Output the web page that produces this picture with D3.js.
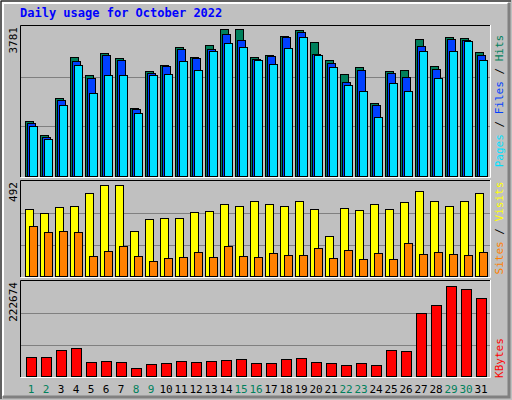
<!DOCTYPE html>
<html>
<head>
<meta charset="utf-8">
<script src="https://cdn.jsdelivr.net/npm/d3@7"></script>
<style>
  body { margin: 0; background: #fff; }
  text { font-family: 'DejaVu Sans Mono', monospace; }
</style>
</head>
<body>
<script>
var days = d3.range(1, 32)
var weekends = [1, 2, 8, 9, 15, 16, 22, 23, 29, 30]
var hits = [1396, 1041, 1980, 3020, 2563, 3121, 2995, 1726, 2664, 2817, 3274, 3020, 3324, 3731, 3731, 3020, 3070, 3553, 3705, 3401, 2944, 2588, 2766, 1853, 2664, 2690, 3477, 2791, 3527, 3502, 3147]
var files = [1346, 990, 1930, 2918, 2487, 3070, 2944, 1700, 2614, 2791, 3223, 2995, 3223, 3604, 3451, 2970, 3045, 3527, 3654, 3096, 2868, 2385, 2690, 1802, 2614, 2512, 3299, 2715, 3477, 3451, 3070]
var pages = [1269, 940, 1802, 2817, 2106, 2563, 2563, 1599, 2563, 2588, 2918, 2690, 3172, 3375, 3274, 2944, 2842, 3248, 3527, 3070, 2766, 2309, 2157, 1497, 2360, 2157, 3172, 2487, 3172, 3426, 2944]
var visits = [349, 328, 359, 364, 432, 478, 478, 235, 297, 302, 302, 333, 338, 375, 369, 390, 375, 369, 390, 349, 209, 354, 343, 375, 349, 385, 447, 395, 369, 395, 432]
var sites = [261, 230, 235, 230, 105, 131, 157, 105, 79, 95, 100, 126, 100, 157, 105, 100, 121, 110, 110, 147, 95, 136, 90, 121, 90, 173, 116, 126, 116, 110, 126]
var kbytes = [45316, 45316, 61723, 66411, 33596, 35940, 33596, 19533, 28908, 31252, 35940, 33596, 35940, 38284, 40628, 31252, 31252, 40628, 42972, 33596, 31252, 26564, 31252, 26564, 61723, 59379, 148450, 167200, 214080, 207045, 183606]
var maxHits = 3781, maxVisits = 492, maxKB = 222674

var W = 512, H = 400
var svg = d3.select('body').append('svg').attr('width', W).attr('height', H)

// frame
svg.append('rect').attr('width', W).attr('height', H).attr('fill', '#c0c0c0')
svg.append('path').attr('d', 'M1,399 V1 H511').attr('stroke', '#000').attr('fill', 'none')
svg.append('path').attr('d', 'M3,396 V3 H508').attr('stroke', '#fff').attr('stroke-width', 2).attr('fill', 'none')
svg.append('path').attr('d', 'M3,397 H509 V3').attr('stroke', '#808080').attr('stroke-width', 3).attr('fill', 'none')

svg.append('text').attr('x', 20).attr('y', 17).attr('fill', '#0000ff')
  .attr('font-size', 12).attr('font-weight', 'bold').text('Daily usage for October 2022')

var x = d3.scaleBand().domain(days).range([22, 487]).paddingInner(0)

function panel (top, bottom, max) {
  svg.append('rect').attr('x', 20).attr('y', top).attr('width', 471).attr('height', bottom - top)
    .attr('fill', '#c0c0c0')
  var y = d3.scaleLinear().domain([0, max]).range([bottom - 1, top + 2])
  ;[1 / 3, 2 / 3].forEach(function (f) {
    svg.append('line').attr('x1', 21).attr('x2', 490)
      .attr('y1', Math.round(y(max * f)) + 0.5).attr('y2', Math.round(y(max * f)) + 0.5)
      .attr('stroke', '#808080')
  })
  svg.append('path').attr('d', 'M20.5,' + bottom + ' V' + (top + 0.5) + ' H490.5')
    .attr('stroke', '#000').attr('fill', 'none')
  svg.append('path').attr('d', 'M20.5,' + (bottom + 0.5) + ' H490.5 V' + top)
    .attr('stroke', '#fff').attr('fill', 'none')
  svg.append('text').attr('transform', 'translate(17,' + (top + 2) + ') rotate(-90)')
    .attr('text-anchor', 'end').attr('font-size', 11).attr('fill', '#000').text(max)
  return y
}

function bars (data, y, off, w, color) {
  svg.append('g').selectAll('rect').data(data).join('rect')
    .attr('x', function (d, i) { return Math.round(x(days[i])) + off + 0.5 })
    .attr('y', function (d) { return Math.round(y(d)) + 0.5 })
    .attr('width', w)
    .attr('height', function (d) { return Math.round(y(0)) - Math.round(y(d)) })
    .attr('fill', color).attr('stroke', '#000')
}

function sideLabel (parts, cy) {
  var t = svg.append('text').attr('transform', 'translate(503,' + cy + ') rotate(-90)')
    .attr('text-anchor', 'middle').attr('font-size', 11)
  parts.forEach(function (p, i) {
    if (i) t.append('tspan').attr('fill', '#000').text(' / ')
    t.append('tspan').attr('fill', p[1]).text(p[0])
  })
}

var y1 = panel(25, 177, maxHits)
bars(hits, y1, 3, 8, '#00805c')
bars(files, y1, 5, 8, '#0040ff')
bars(pages, y1, 7, 8, '#00e0ff')
sideLabel([['Pages', '#00e0ff'], ['Files', '#0040ff'], ['Hits', '#00805c']], 101)

var y2 = panel(180, 277, maxVisits)
bars(visits, y2, 3, 8, '#ffff00')
bars(sites, y2, 7, 8, '#ff8000')
sideLabel([['Sites', '#ff8000'], ['Visits', '#ffff00']], 228)

var y3 = panel(280, 377, maxKB)
bars(kbytes, y3, 4, 10, '#ff0000')
sideLabel([['KBytes', '#ff0000']], 358)

svg.append('g').selectAll('text').data(days).join('text')
  .attr('x', function (d) { return x(d) + 9 })
  .attr('y', 393).attr('text-anchor', 'middle').attr('font-size', 11)
  .attr('fill', function (d) { return weekends.indexOf(d) >= 0 ? '#00805c' : '#000' })
  .text(function (d) { return d })
</script>
</body>
</html>
